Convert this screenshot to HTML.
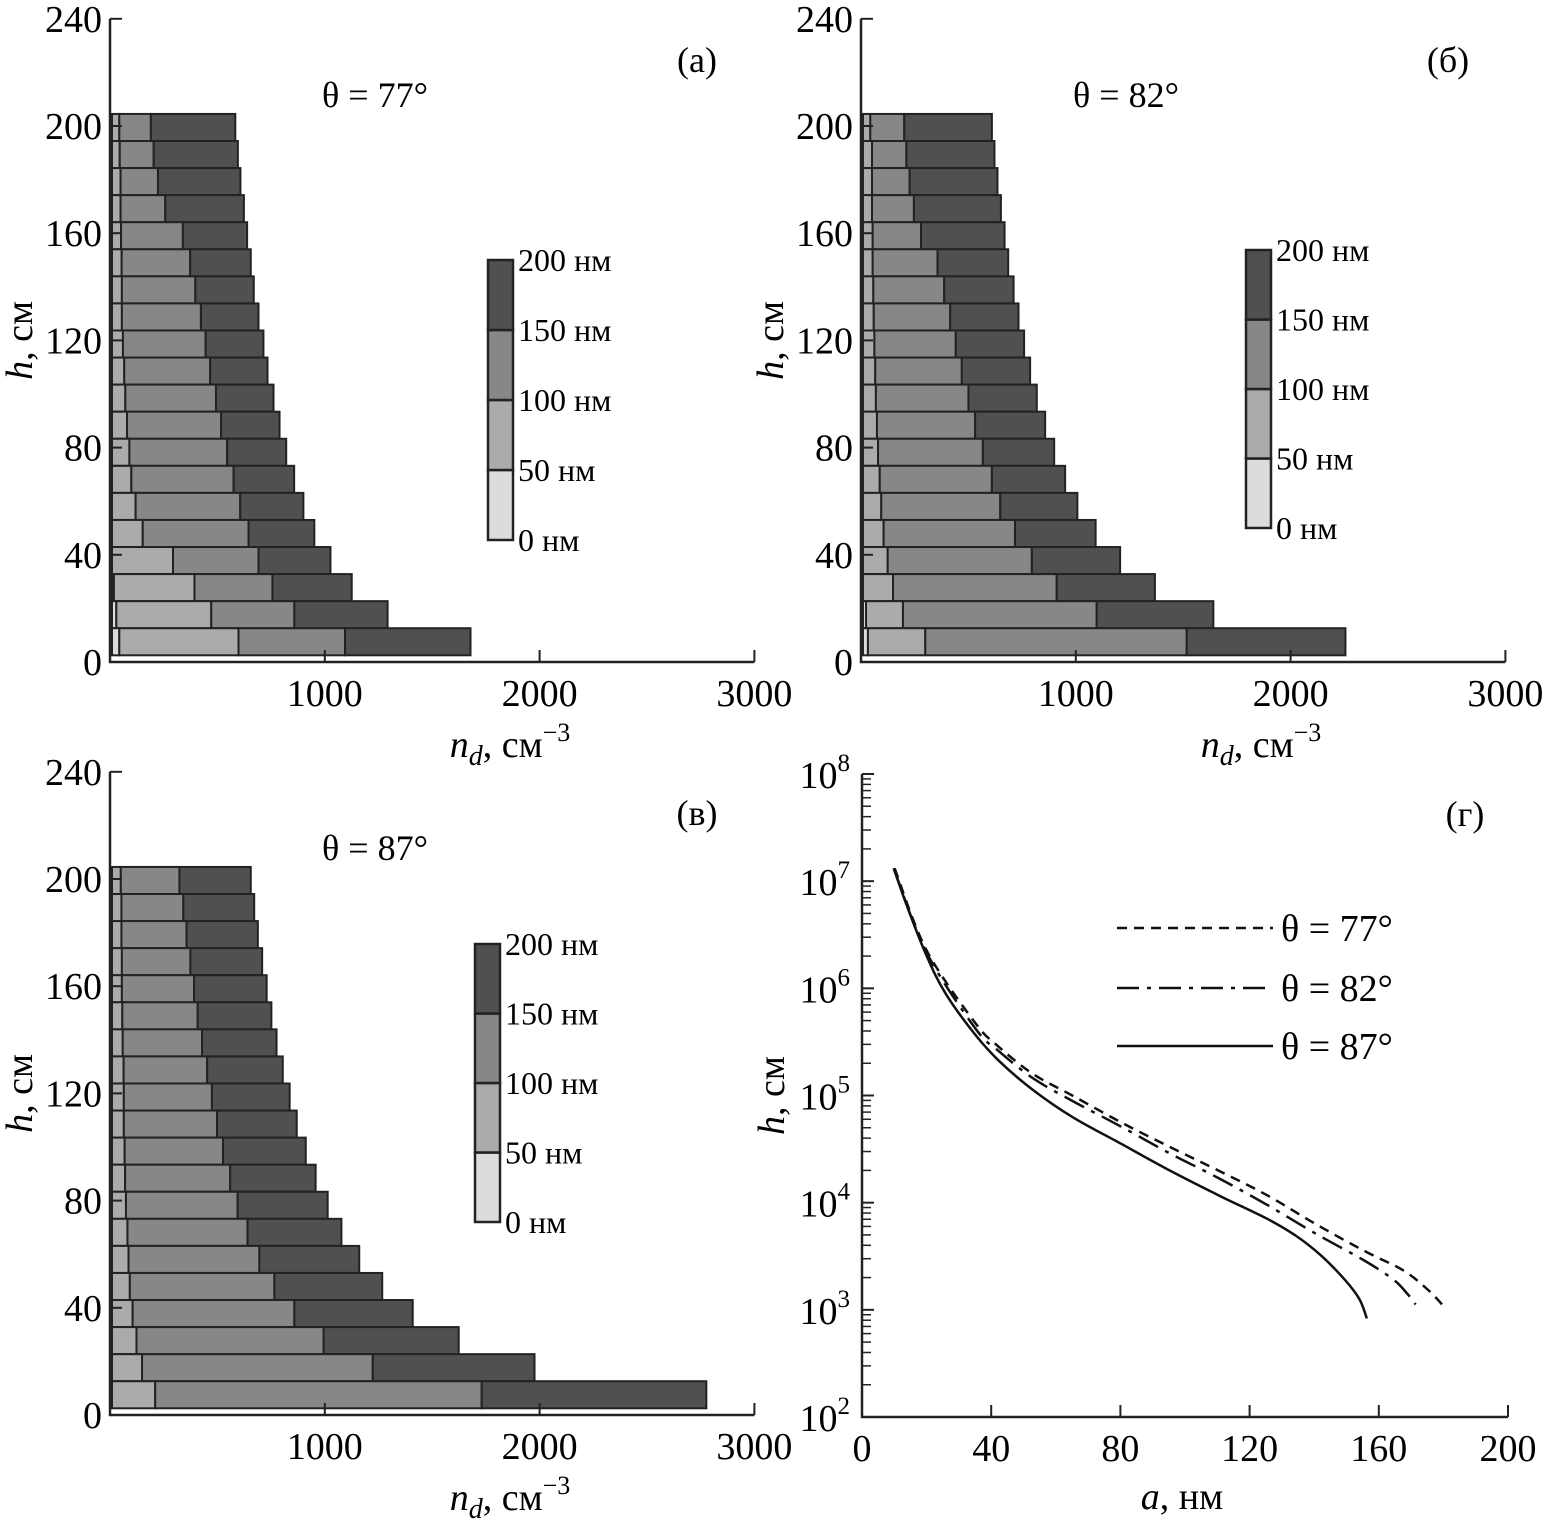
<!DOCTYPE html>
<html><head><meta charset="utf-8"><style>
html,body{margin:0;padding:0;background:#fff}
svg{display:block;font-family:"Liberation Serif",serif}
</style></head><body>
<svg id="fig" width="1545" height="1528" viewBox="0 0 1545 1528" xmlns="http://www.w3.org/2000/svg"></svg>
<script>
// ---- bar panel data (rows listed top to bottom; cumulative boundaries, cm^-3) ----
const rowCount = 20;
const a_c1 = [0,0,0,0,0,0,0,0,0,0,0,0,0,0,0,0,0,9,20,34];
const a_c2 = [34,36,40,40,42,45,46,46,51,57,62,70,81,90,110,143,284,384,462,589];
const a_c3 = [181,194,214,248,330,364,388,414,436,457,484,508,536,566,597,636,682,747,849,1085];
const a_c4 = [574,586,598,614,629,646,660,682,705,724,752,780,811,848,891,942,1017,1116,1283,1669];
const b_c1 = [0,0,0,0,0,0,0,0,0,0,0,0,0,0,0,0,0,0,14,23];
const b_c2 = [34,42,42,42,45,45,48,50,53,57,60,65,70,78,85,96,115,140,186,290];
const b_c3 = [192,202,217,237,270,347,378,406,432,460,491,522,558,600,639,708,786,902,1088,1507];
const b_c4 = [600,612,626,642,659,676,701,724,750,778,809,848,890,941,998,1083,1197,1359,1631,2246];
const c_c1 = [0,0,0,0,0,0,0,0,0,0,0,0,0,0,0,0,0,0,0,0];
const c_c2 = [41,44,44,46,46,48,50,54,55,55,59,61,65,72,77,83,96,114,140,201];
const c_c3 = [314,332,347,365,382,399,419,443,465,489,517,550,585,631,686,756,849,985,1214,1721];
const c_c4 = [646,662,679,699,720,742,766,795,827,860,902,948,1004,1068,1151,1258,1400,1614,1967,2767];
const hTicks = [0,40,80,120,160,200,240];
const nTicks = [1000,2000,3000];
const sizeLabels = ["0 нм","50 нм","100 нм","150 нм","200 нм"];
// ---- panel (g) data: a (nm) and log10 h ----
const aTicks = [0,40,80,120,160,200];
const decades = [2,3,4,5,6,7,8];
const s77_a = [10.1,19.9,35,42.5,53,65.1,80.2,95.3,110.3,125.4,140.5,155.5,167.5,175.1,179.6];
const s77_l = [7.12,6.36,5.68,5.45,5.20,5.00,4.75,4.52,4.30,4.07,3.80,3.55,3.37,3.19,3.05];
const s82_a = [9.8,19.9,35,42.5,53,65.1,80.2,95.3,110.3,125.4,140.5,155.5,164.6,169.1,171.4];
const s82_l = [7.12,6.34,5.63,5.41,5.16,4.95,4.71,4.46,4.23,3.98,3.71,3.46,3.28,3.14,3.05];
const s87_a = [9.8,13.9,19.9,25.9,35,42.5,53,65.1,80.2,95.3,110.3,125.4,134.4,142,149.5,154,156.3];
const s87_l = [7.12,6.77,6.31,5.95,5.57,5.32,5.05,4.80,4.55,4.30,4.07,3.85,3.69,3.51,3.28,3.10,2.92];

const NS="http://www.w3.org/2000/svg";
const svg=document.getElementById('fig');
function mk(tag,attrs,parent){const e=document.createElementNS(NS,tag);for(const k in attrs)e.setAttribute(k,attrs[k]);(parent||svg).appendChild(e);return e;}
function txt(x,y,s,size,anchor,parent){const t=mk('text',{x:x,y:y,'font-size':size,'text-anchor':anchor||'middle'},parent);t.textContent=s;return t;}
const colors=['#dcdcdc','#ababab','#878787','#505050'];

function barPanel(name,x0,y0,c1,c2,c3,c4,theta,letter,leg){
  const g=mk('g',{});
  
  
  const xs=v=>x0+v*0.2148, ys=v=>y0-v*2.68;
  for(let i=0;i<rowCount;i++){
    const k=rowCount-1-i;
    const hb=2.5+10.1*k, ht=hb+10.1;
    const b=[0,c1[i],c2[i],c3[i],c4[i]];
    for(let s=0;s<4;s++){
      if(b[s+1]-b[s]<=0)continue;
      const r=mk('rect',{x:xs(b[s])+2,y:ys(ht),width:Math.max(0,xs(b[s+1])-xs(b[s])),height:ys(hb)-ys(ht),fill:colors[s],stroke:'#222','stroke-width':2},g);
      
      
    }
  }
  const ax=mk('path',{d:`M${x0},${ys(240)} V${y0} H${xs(3000)}`,fill:'none',stroke:'#222','stroke-width':2.5},g);
  
  
  hTicks.forEach(v=>{
    if(v>0) mk('line',{x1:x0,x2:x0+12,y1:ys(v),y2:ys(v),stroke:'#222','stroke-width':2},g);
    const t=txt(x0-8,ys(v)+13,String(v),38,'end',g);
    
    
  });
  nTicks.forEach(v=>{
    mk('line',{x1:xs(v),x2:xs(v),y1:y0,y2:y0-12,stroke:'#222','stroke-width':2},g);
    const t=txt(xs(v),y0+44,String(v),38,'middle',g);
    
    
  });
  const yt=mk('text',{x:0,y:0,'font-size':38,'text-anchor':'middle',transform:`translate(${x0-78},${ys(120)}) rotate(-90)`},g);
  yt.innerHTML='<tspan font-style="italic">h</tspan>, см';
  
  
  const xt=mk('text',{x:x0+400,y:y0+95,'font-size':38,'text-anchor':'middle'},g);
  xt.innerHTML='<tspan font-style="italic">n</tspan><tspan font-style="italic" font-size="28" dy="8">d</tspan><tspan dy="-8">, см</tspan><tspan font-size="26" dy="-16">−3</tspan>';
  
  
  const th=txt(x0+265,y0-555,theta,36,'middle',g);
  
  
  const pl=txt(x0+587,y0-590,letter,36,'middle',g);
  
  
  const lg=mk('g',{},g);
  
  
  const segH=(leg.y1-leg.y0)/4;
  for(let s=0;s<4;s++){
    mk('rect',{x:leg.x,y:leg.y1-segH*(s+1),width:25,height:segH,fill:colors[s],stroke:'#222','stroke-width':2.5},lg);
  }
  sizeLabels.forEach((l,i)=>{
    const t=txt(leg.x+30,leg.y1-segH*i+11,l,32,'start',lg);
    
    
  });
}
barPanel('panel-a',110,662,a_c1,a_c2,a_c3,a_c4,'θ = 77°','(a)',{x:488,y0:260,y1:540});
barPanel('panel-b',861,662,b_c1,b_c2,b_c3,b_c4,'θ = 82°','(б)',{x:1246,y0:250,y1:528});
barPanel('panel-c',110,1415,c_c1,c_c2,c_c3,c_c4,'θ = 87°','(в)',{x:475,y0:944,y1:1222});

function smoothPath(P){
  let d='M'+P[0][0].toFixed(1)+','+P[0][1].toFixed(1);
  for(let i=0;i<P.length-1;i++){
    const p0=P[Math.max(0,i-1)],p1=P[i],p2=P[i+1],p3=P[Math.min(P.length-1,i+2)];
    const c1x=p1[0]+(p2[0]-p0[0])/6,c1y=p1[1]+(p2[1]-p0[1])/6;
    const c2x=p2[0]-(p3[0]-p1[0])/6,c2y=p2[1]-(p3[1]-p1[1])/6;
    d+=`C${c1x.toFixed(1)},${c1y.toFixed(1)} ${c2x.toFixed(1)},${c2y.toFixed(1)} ${p2[0].toFixed(1)},${p2[1].toFixed(1)}`;
  }
  return d;
}

(function(){
  const g=mk('g',{});
  
  
  const x0=862,x1=1508,yb=1417,yt=774;
  const xs=v=>x0+v*(x1-x0)/200, ys=l=>yb-(l-2)*(yb-yt)/6;
  const ax=mk('path',{d:`M${x0},${yt} V${yb} H${x1}`,fill:'none',stroke:'#222','stroke-width':2.5},g);
  
  
  decades.forEach(d=>{
    mk('line',{x1:x0,x2:x0+12,y1:ys(d),y2:ys(d),stroke:'#222','stroke-width':2},g);
    if(d<8) for(let m=2;m<10;m++){const yy=ys(d+Math.log10(m));mk('line',{x1:x0,x2:x0+9,y1:yy,y2:yy,stroke:'#222','stroke-width':1.5},g);}
    const t=mk('text',{x:x0-12,y:ys(d)+14,'font-size':38,'text-anchor':'end'},g);
    t.innerHTML='10<tspan font-size="25" dy="-17">'+d+'</tspan>';
    
    
  });
  aTicks.forEach(v=>{
    if(v>0) mk('line',{x1:xs(v),x2:xs(v),y1:yb,y2:yb-12,stroke:'#222','stroke-width':2},g);
    const t=txt(xs(v),yb+44,String(v),38,'middle',g);
    
    
  });
  const ytl=mk('text',{x:0,y:0,'font-size':38,'text-anchor':'middle',transform:`translate(${x0-78},${(yb+yt)/2}) rotate(-90)`},g);
  ytl.innerHTML='<tspan font-style="italic">h</tspan>, см';
  
  
  const xtl=mk('text',{x:1182,y:yb+92,'font-size':38,'text-anchor':'middle'},g);
  xtl.innerHTML='<tspan font-style="italic">a</tspan>, нм';
  
  
  const pl=txt(1465,826,'(г)',36,'middle',g);
  
  
  const series=[[s77_a,s77_l,'10,7','series-77'],[s82_a,s82_l,'22,8,4,8','series-82'],[s87_a,s87_l,'','series-87']];
  series.forEach(([A,L,dash,nm])=>{
    const P=A.map((a,i)=>[xs(a),ys(L[i])]);
    const p=mk('path',{d:smoothPath(P),fill:'none',stroke:'#111','stroke-width':2.5,'stroke-dasharray':dash||'none'},g);
    
    
  });
  const legY=[928,988,1046], legT=['θ = 77°','θ = 82°','θ = 87°'];
  series.forEach((s,i)=>{
    const lg=mk('g',{},g);
    
    
    mk('line',{x1:1117,x2:1273,y1:legY[i],y2:legY[i],stroke:'#111','stroke-width':2.5,'stroke-dasharray':s[2]||'none'},lg);
    txt(1281,legY[i]+13,legT[i],38,'start',lg);
  });
})();
</script>
</body></html>
